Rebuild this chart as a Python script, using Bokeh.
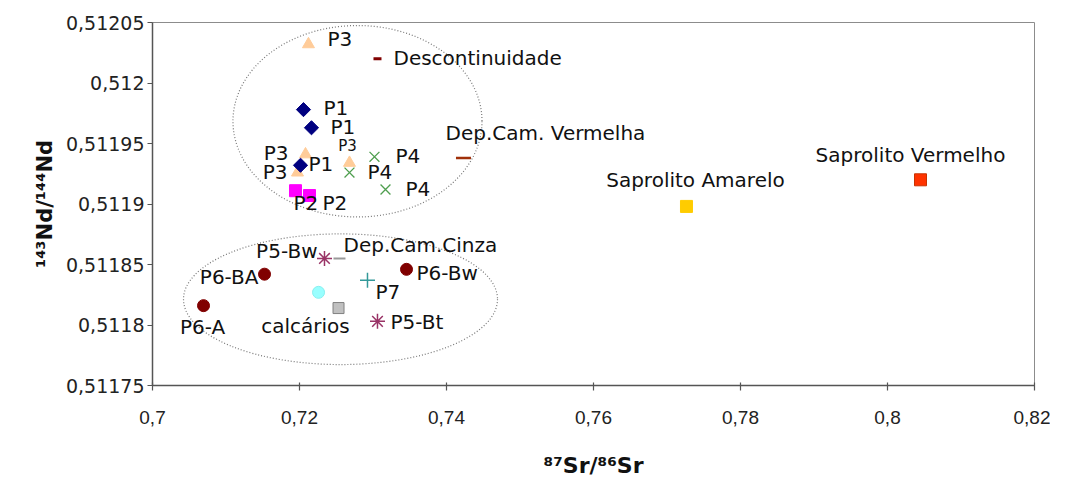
import math
from bokeh.plotting import figure
from bokeh.models import Range1d, FixedTicker, ColumnDataSource
from bokeh.core.properties import value
from bokeh.embed import file_html
from bokeh.resources import INLINE

# ---------------- data ----------------
x_ticks = [0.70, 0.72, 0.74, 0.76, 0.78, 0.80, 0.82]
x_tick_labels = ["0,7", "0,72", "0,74", "0,76", "0,78", "0,8", "0,82"]
y_ticks = [0.51175, 0.5118, 0.51185, 0.5119, 0.51195, 0.512, 0.51205]
y_tick_labels = ["0,51175", "0,5118", "0,51185", "0,5119", "0,51195", "0,512", "0,51205"]

x_title = "⁸⁷Sr/⁸⁶Sr"
y_title = "¹⁴³Nd/¹⁴⁴Nd"

p3_sr = [0.72122, 0.72082, 0.71973, 0.72680]
p3_nd = [0.512032, 0.511941, 0.511926, 0.511934]
p3_lab = ["P3", "P3", "P3", "P3"]

p1_sr = [0.72054, 0.72163, 0.72014]
p1_nd = [0.511978, 0.511963, 0.511932]
p1_lab = ["P1", "P1", "P1"]

p2_sr = [0.71946, 0.72136]
p2_nd = [0.511911, 0.511907]
p2_lab = ["P2", "P2"]

p4_sr = [0.73020, 0.72680, 0.73170]
p4_nd = [0.511939, 0.511926, 0.511912]
p4_lab = ["P4", "P4", "P4"]

desc_sr = [0.73061]
desc_nd = [0.512020]
desc_lab = ["Descontinuidade"]

dcv_sr = [0.74231]
dcv_nd = [0.511938]
dcv_lab = ["Dep.Cam. Vermelha"]

sam_sr = [0.77265]
sam_nd = [0.511898]
sam_lab = ["Saprolito Amarelo"]

sve_sr = [0.80449]
sve_nd = [0.511920]
sve_lab = ["Saprolito Vermelho"]

p5_sr = [0.72340, 0.73061]
p5_nd = [0.511855, 0.511803]
p5_lab = ["P5-Bw", "P5-Bt"]

dcc_sr = [0.72544]
dcc_nd = [0.511855]
dcc_lab = ["Dep.Cam.Cinza"]

p6_sr = [0.71524, 0.70694, 0.73456]
p6_nd = [0.511842, 0.511816, 0.511846]
p6_lab = ["P6-BA", "P6-A", "P6-Bw"]

p7_sr = [0.72925]
p7_nd = [0.511837]
p7_lab = ["P7"]

calc1_sr = [0.72259]
calc1_nd = [0.511827]
calc1_lab = [""]

calc2_sr = [0.72531]
calc2_nd = [0.511814]
calc2_lab = ["calcários"]

# dotted grouping ellipses: centre x, centre y, width, height (data units)
ell_x = [0.72789, 0.72558]
ell_y = [0.5119684, 0.5118213]
ell_w = [0.03388, 0.04272]
ell_h = [0.0001582, 0.0001080]

# ---------------- styles ----------------
# (marker, size, fill, line, line_width, angle)
STY = {
    "p3": ("triangle", 12, "#FFCC99", "#FFCC99", 1, 0),
    "p1": ("square", 10, "#000080", "#000080", 1, math.pi / 4),
    "p2": ("square", 12, "#FF00FF", "#FF00FF", 1, 0),
    "p4": ("x", 14, None, "#4E9E4E", 1.3, 0),
    "desc": ("dash", 8, None, "#800000", 3, 0),
    "dcv": ("dash", 15, None, "#A0300A", 2.5, 0),
    "sam": ("square", 12, "#FFCC00", "#FFCC00", 1, 0),
    "sve": ("square", 12, "#FF3300", "#C83200", 1, 0),
    "p5": ("asterisk", 15, None, "#993366", 1.5, 0),
    "dcc": ("dash", 12, None, "#999999", 2, 0),
    "p6": ("circle", 12, "#800000", "#800000", 1, 0),
    "p7": ("cross", 15, None, "#339999", 1.5, 0),
    "calc1": ("circle", 12, "#99FFFF", "#88F0F0", 1, 0),
    "calc2": ("square", 11, "#C0C0C0", "#808080", 1, 0),
}
# label layout per point: (align, dx px, dy px, font px)
LAY = {
    "p3": [("left", 19, -5, 20), ("right", -17, -1, 20), ("right", -10, -1, 20), ("center", -2, -17, 15)],
    "p1": [("left", 20, -2, 20), ("left", 19, -1, 20), ("left", 8, -1, 20)],
    "p2": [("left", -2, 12, 20), ("left", 13, 7, 20)],
    "p4": [("left", 21, -1, 20), ("left", 18, -1, 20), ("left", 20, 0, 20)],
    "desc": [("left", 16, -1, 20)],
    "dcv": [("center", 82, -25, 20)],
    "sam": [("center", 9, -26, 20)],
    "sve": [("center", -10, -25, 20)],
    "p5": [("right", -7, -7, 20), ("left", 13, 1, 20)],
    "dcc": [("left", 4, -13, 20)],
    "p6": [("right", -6, 3, 20), ("center", -1, 21, 20), ("left", 10, 4, 20)],
    "p7": [("left", 8, 12, 20)],
    "calc1": [("left", 0, 0, 20)],
    "calc2": [("center", -33, 18, 20)],
}

SERIES = [
    ("p3", p3_sr, p3_nd, p3_lab),
    ("p1", p1_sr, p1_nd, p1_lab),
    ("p2", p2_sr, p2_nd, p2_lab),
    ("p4", p4_sr, p4_nd, p4_lab),
    ("desc", desc_sr, desc_nd, desc_lab),
    ("dcv", dcv_sr, dcv_nd, dcv_lab),
    ("sam", sam_sr, sam_nd, sam_lab),
    ("sve", sve_sr, sve_nd, sve_lab),
    ("dcc", dcc_sr, dcc_nd, dcc_lab),
    ("p5", p5_sr, p5_nd, p5_lab),
    ("p6", p6_sr, p6_nd, p6_lab),
    ("p7", p7_sr, p7_nd, p7_lab),
    ("calc1", calc1_sr, calc1_nd, calc1_lab),
    ("calc2", calc2_sr, calc2_nd, calc2_lab),
]

# ---------------- figure ----------------
p = figure(width=1050, height=480, output_backend="svg", toolbar_location=None,
           x_range=Range1d(0.70, 0.82), y_range=Range1d(0.51175, 0.51205),
           min_border_left=152, min_border_right=16, min_border_top=22, min_border_bottom=94)
p.background_fill_color = "white"
p.border_fill_color = "white"
p.outline_line_color = "#8C8C8C"
p.xgrid.visible = False
p.ygrid.visible = False

p.xaxis.ticker = FixedTicker(ticks=x_ticks)
p.yaxis.ticker = FixedTicker(ticks=y_ticks)
p.xaxis.major_label_overrides = dict(zip(x_ticks, x_tick_labels))
p.yaxis.major_label_overrides = dict(zip(y_ticks, y_tick_labels))
for ax in (p.xaxis, p.yaxis):
    ax.axis_line_color = "#555555"
    ax.axis_line_width = 1.5
    ax.major_tick_line_color = "#555555"
    ax.major_tick_line_width = 1.2
    ax.minor_tick_line_color = None
    ax.major_label_text_color = "#222222"
    ax.axis_label_text_color = "#111111"
    ax.axis_label_text_font_style = "bold"

p.xaxis.major_tick_in = 3
p.xaxis.major_tick_out = 5
p.xaxis.major_label_standoff = 20
p.xaxis.major_label_text_font = "Liberation Sans"
p.xaxis.major_label_text_font_size = "19px"
p.xaxis.axis_label = x_title
p.xaxis.axis_label_text_font = "DejaVu Sans"
p.xaxis.axis_label_text_font_size = "22px"
p.xaxis.axis_label_standoff = 26

p.yaxis.major_tick_in = 0
p.yaxis.major_tick_out = 5
p.yaxis.major_label_standoff = 3
p.yaxis.major_label_text_font = "DejaVu Sans"
p.yaxis.major_label_text_font_size = "19px"
p.yaxis.axis_label = y_title
p.yaxis.axis_label_text_font = "DejaVu Sans"
p.yaxis.axis_label_text_font_size = "21px"
p.yaxis.axis_label_standoff = 6

p.ellipse(x=ell_x, y=ell_y, width=ell_w, height=ell_h, fill_color=None,
          line_color="#777777", line_width=1.2, line_dash="1 2")

lx, ly, lt, la, ldx, ldy, lfs = [], [], [], [], [], [], []
for key, xs, ys, labs in SERIES:
    mk, sz, fc, lc, lw, ang = STY[key]
    p.scatter(x=xs, y=ys, marker=mk, size=sz, fill_color=fc, line_color=lc,
              line_width=lw, angle=ang)
    for xv, yv, t, (al, dx, dy, fs) in zip(xs, ys, labs, LAY[key]):
        if not t:
            continue
        lx.append(xv); ly.append(yv); lt.append(t); la.append(al)
        ldx.append(dx); ldy.append(dy); lfs.append(f"{fs}px")

src = ColumnDataSource(dict(x=lx, y=ly, t=lt, al=la, dx=ldx, dy=ldy, fs=lfs))
p.text(x="x", y="y", text="t", source=src, x_offset="dx", y_offset="dy",
       text_align="al", text_baseline="middle", text_font=value("DejaVu Sans"),
       text_font_size="fs", text_color="#111111")

open("out.html", "w").write(file_html(p, INLINE))
